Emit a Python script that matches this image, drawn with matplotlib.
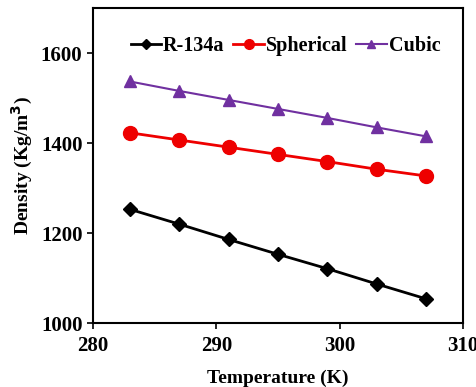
import matplotlib
matplotlib.use("Agg")
import matplotlib.pyplot as plt

temperature = [283, 287, 291, 295, 299, 303, 307]
r134a = [1253, 1220, 1186, 1153, 1121, 1087, 1054]
spherical = [1423, 1407, 1391, 1375, 1359, 1342, 1327]
cubic = [1537, 1516, 1496, 1476, 1456, 1435, 1415]

x_ticks = [280, 290, 300, 310]
y_ticks = [1000, 1200, 1400, 1600]

plt.rcParams['font.family'] = ['Liberation Serif', 'DejaVu Serif']
plt.rcParams['font.weight'] = 'bold'

fig = plt.figure(figsize=(4.76, 3.87), dpi=100)
ax = fig.add_axes([0.195, 0.165, 0.778, 0.814])

ax.plot(temperature, r134a, color='black', marker='D', markersize=7, lw=2, label='R-134a')
ax.plot(temperature, spherical, color='#ee0000', marker='o', markersize=10, lw=2, label='Spherical')
ax.plot(temperature, cubic, color='#7030a0', marker='^', markersize=9, lw=1.5, label='Cubic')

ax.set_xlim(280, 310)
ax.set_ylim(1000, 1700)
ax.set_xticks(x_ticks)
ax.set_yticks(y_ticks)
ax.tick_params(direction='out', labelsize=15, length=4, width=1.2)
ax.tick_params(axis='x', pad=5)
for s in ax.spines.values():
    s.set_linewidth(1.5)

ax.set_xlabel('Temperature (K)', fontsize=14, fontweight='bold', labelpad=10)
ax.set_ylabel('Density (Kg/m$^3$)', fontsize=14, fontweight='bold', labelpad=4)

ax.legend(loc='upper center', bbox_to_anchor=(0.52, 0.97), ncol=3, frameon=False,
          prop={'size': 14.5, 'weight': 'bold'}, handlelength=1.5, handletextpad=0.1,
          columnspacing=0.45, markerscale=0.7)

fig.savefig('out.png', dpi=100)
